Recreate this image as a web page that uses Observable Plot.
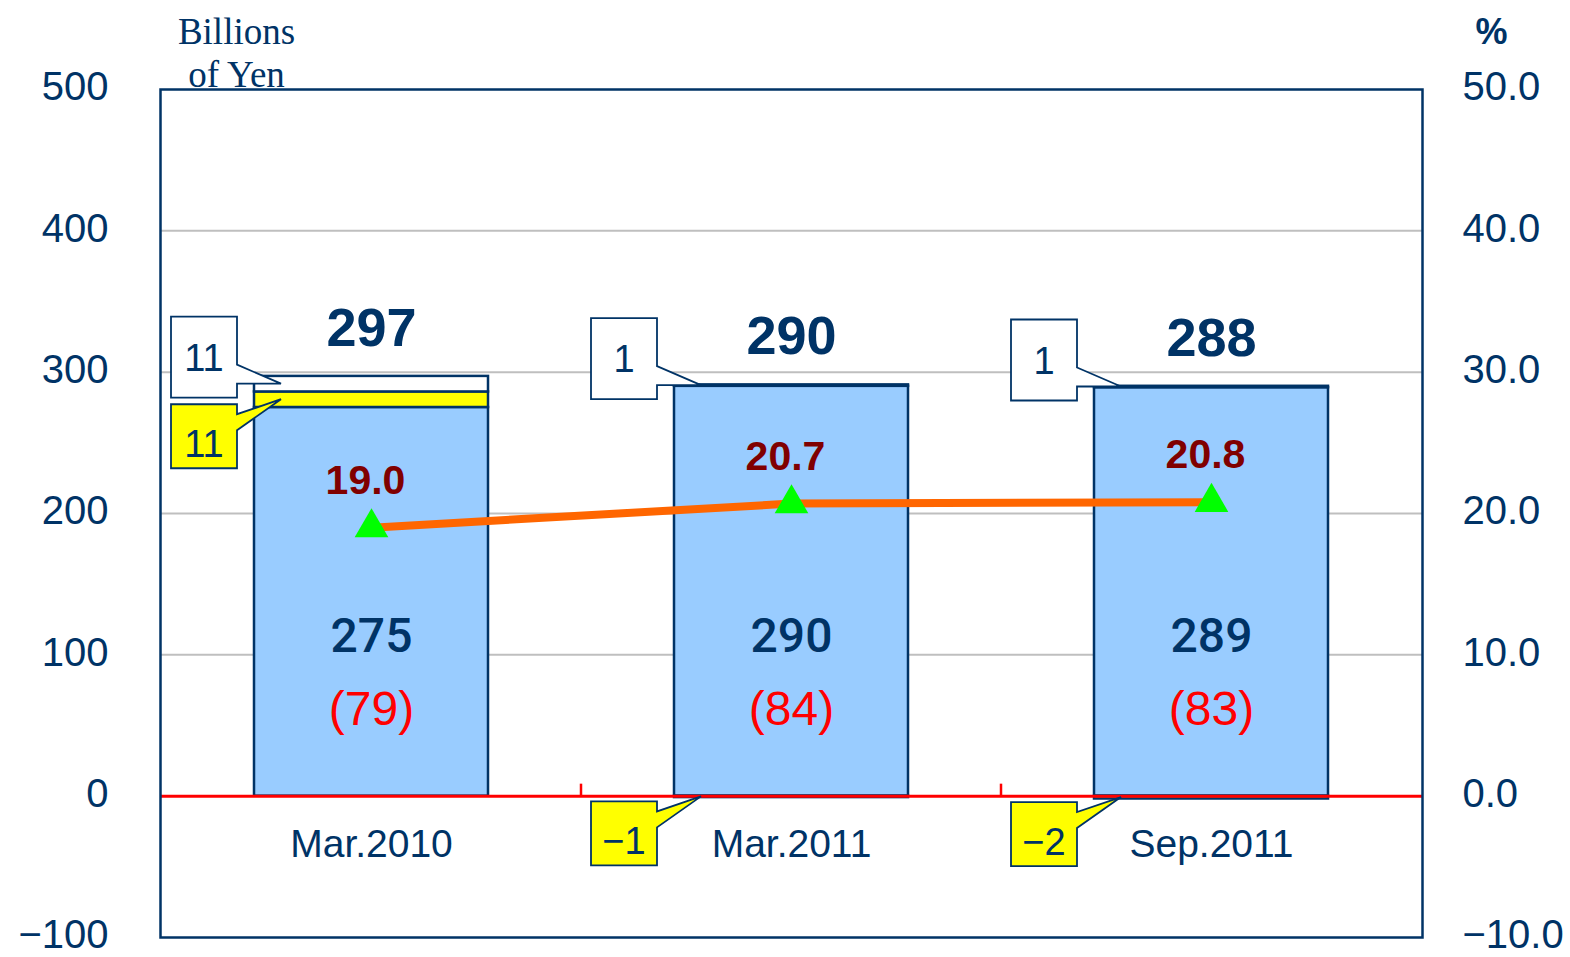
<!DOCTYPE html>
<html>
<head>
<meta charset="utf-8">
<script src="https://cdn.jsdelivr.net/npm/d3@7"></script>
<script src="https://cdn.jsdelivr.net/npm/@observablehq/plot@0.6"></script>
<style>
  html, body { margin: 0; padding: 0; background: #fff; }
</style>
</head>
<body>
<div id="chart"></div>
<script>
// ---- data ----
const categories = ["Mar.2010", "Mar.2011", "Sep.2011"];
const baseValues = [275, 290, 289];        // blue part
const upperYellow = [11, 0, 0];            // yellow part above blue
const upperWhite = [11, 1, 1];             // white part on top
const lowerYellow = [0, -1, -2];           // yellow part below zero
const totals = [297, 290, 288];
const ratios = [19.0, 20.7, 20.8];         // % (right axis)
const shares = [79, 84, 83];               // bracketed values
const yTicks = [-100, 0, 100, 200, 300, 400, 500];
const pctTicks = [-10, 0, 10, 20, 30, 40, 50];

// ---- derived tables ----
const NAVY = "#003366";
const k = yTicks[yTicks.length - 1] / pctTicks[pctTicks.length - 1]; // % -> left units
const minus = (s) => String(s).replace("-", "\u2212");

const segments = categories.flatMap((c, i) => [
  {cat: c, seg: "segBase", v: baseValues[i]},
  {cat: c, seg: "segAdd", v: upperYellow[i]},
  {cat: c, seg: "segTop", v: upperWhite[i]},
  {cat: c, seg: "segAdd", v: lowerYellow[i]}
]).filter(d => d.v !== 0);

const rows = categories.map((c, i) => ({
  cat: c, base: baseValues[i], total: totals[i], ratio: ratios[i], share: shares[i],
  top: baseValues[i] + upperYellow[i] + upperWhite[i]
}));

const callouts = [];
categories.forEach((c, i) => {
  if (upperWhite[i] > 0) callouts.push({cat: c, kind: "white", label: String(upperWhite[i]),
    at: baseValues[i] + upperYellow[i] + upperWhite[i] / 2});
  if (upperYellow[i] > 0) callouts.push({cat: c, kind: "yellow", label: String(upperYellow[i]),
    at: baseValues[i] + upperYellow[i] / 2});
  if (lowerYellow[i] < 0) callouts.push({cat: c, kind: "yellow", label: minus(lowerYellow[i]),
    at: lowerYellow[i] / 2});
});

const SANS = "'Liberation Sans', Arial, sans-serif";

// custom render: callout boxes + category boundary ticks
function annotations(index, scales, values, dimensions) {
  const x = scales.x, y = scales.y;
  const bw = x.bandwidth ? x.bandwidth() : 234;
  const g = d3.create("svg:g");
  const y0 = y(0);
  for (let i = 0; i < categories.length - 1; i++) {
    const bx = (x(categories[i]) + bw + x(categories[i + 1])) / 2;
    g.append("line").attr("x1", bx).attr("x2", bx).attr("y1", y0 - 12).attr("y2", y0)
      .attr("stroke", "#ff0000").attr("stroke-width", 2.5);
  }
  for (const c of callouts) {
    const L = x(c.cat);
    const tx = L + 27, ty = y(c.at);
    const R = L - 17, Lb = L - 83;
    let path, top, bottom, textY;
    if (c.kind === "white") {
      top = ty - 67; bottom = ty + 14;
      path = `M${Lb},${top}H${R}V${ty - 19}L${tx},${ty}H${R}V${bottom}H${Lb}Z`;
      textY = (top + bottom) / 2;
    } else {
      top = ty + 5; bottom = top + 64;
      path = `M${Lb},${top}H${R}V${top + 10}L${tx},${ty}L${R},${top + 26}V${bottom}H${Lb}Z`;
      textY = (top + bottom) / 2 + 7;
    }
    g.append("path").attr("d", path)
      .attr("fill", c.kind === "white" ? "#ffffff" : "#ffff00")
      .attr("stroke", NAVY).attr("stroke-width", 1.8).attr("stroke-linejoin", "miter");
    g.append("text").attr("x", (Lb + R) / 2).attr("y", textY)
      .attr("dy", "0.36em").attr("text-anchor", "middle")
      .attr("font-family", SANS).attr("font-size", 38).attr("fill", NAVY)
      .text(c.label);
  }
  return g.node();
}

const chart = Plot.plot({
  width: 1570,
  height: 957,
  marginLeft: 160,
  marginRight: 148,
  marginTop: 89,
  marginBottom: 20,
  style: {fontFamily: SANS, color: NAVY, background: "#fff", overflow: "visible"},
  x: {type: "band", domain: categories, paddingInner: 0.444, paddingOuter: 0.222, axis: null},
  y: {domain: [yTicks[0], yTicks[yTicks.length - 1]], axis: null},
  color: {type: "ordinal", domain: ["segBase", "segAdd", "segTop"], range: ["#99ccff", "#ffff00", "#ffffff"]},
  marks: [
    Plot.ruleY(yTicks.slice(1, -1).filter(v => v !== 0), {stroke: "#bfbfbf", strokeWidth: 2}),
    Plot.barY(segments, {x: "cat", y: "v", fill: "seg", stroke: NAVY, strokeWidth: 2.5}),
    Plot.ruleY([0], {stroke: "#ff0000", strokeWidth: 3}),
    Plot.frame({stroke: NAVY, strokeWidth: 2.5}),
    Plot.text(yTicks, {y: d => d, frameAnchor: "left", dx: -52, dy: -2, textAnchor: "end",
      text: d => minus(d), fontSize: 40, fill: NAVY}),
    Plot.text(pctTicks, {y: d => d * k, frameAnchor: "right", dx: 40, dy: -2, textAnchor: "start",
      text: d => minus(d.toFixed(1)), fontSize: 40, fill: NAVY}),
    Plot.text(categories, {x: d => d, y: () => 0, dy: 48, text: d => d, fontSize: 39, fill: NAVY}),
    Plot.text(["Billions\nof Yen"], {frameAnchor: "top-left", dx: 76, dy: -38, text: d => d,
      textAnchor: "middle", lineAnchor: "middle",
      fontFamily: "'Liberation Serif', 'Times New Roman', serif", fontSize: 37, lineHeight: 1.17, fill: NAVY}),
    Plot.text(["%"], {frameAnchor: "top-right", dx: 69, dy: -57, text: d => d,
      textAnchor: "middle", lineAnchor: "middle",
      fontSize: 36, fontWeight: "bold", fill: NAVY}),
    Plot.text(rows, {x: "cat", y: "top", dy: -48, text: d => String(d.total),
      fontSize: 54, fontWeight: "bold", fill: NAVY}),
    Plot.text(rows, {x: "cat", y: () => 0, dy: -160, text: d => String(d.base),
      fontSize: 48, fontWeight: 500, fill: NAVY, fontFamily: "Roboto, " + SANS}),
    Plot.text(rows, {x: "cat", y: () => 0, dy: -87, text: d => `(${d.share})`,
      fontSize: 48, fill: "#ff0000", letterSpacing: 2}),
    Plot.line(rows, {x: "cat", y: d => d.ratio * k, stroke: "#ff6600", strokeWidth: 8}),
    Plot.dot(rows, {x: "cat", y: d => d.ratio * k, symbol: "triangle", r: 12.5, fill: "#00ff00", stroke: "none"}),
    Plot.text(rows, {x: "cat", y: d => d.ratio * k, dx: -6, dy: -47, text: d => d.ratio.toFixed(1),
      fontSize: 41, fontWeight: "bold", fill: "#800000"}),
    annotations
  ]
});
document.getElementById("chart").appendChild(chart);
</script>
</body>
</html>
